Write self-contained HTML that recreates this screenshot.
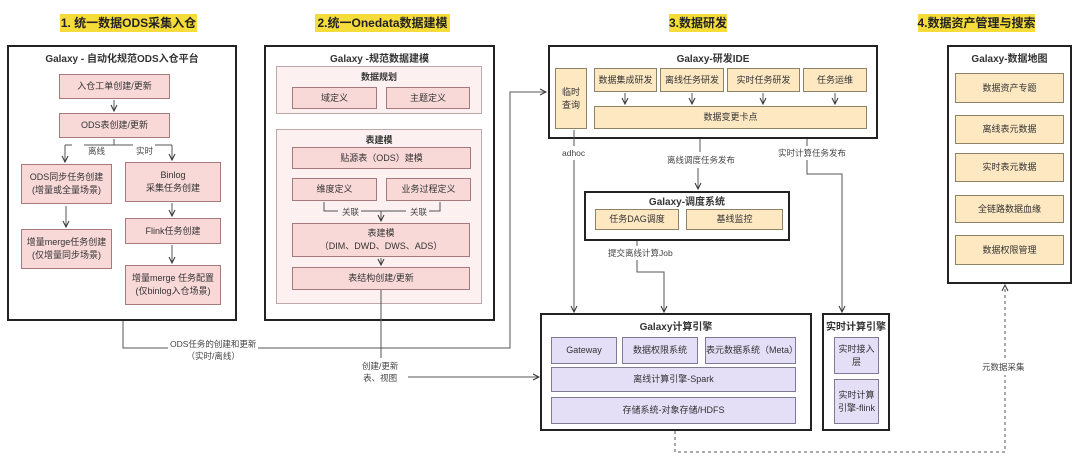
<!DOCTYPE html>
<html><head><meta charset="utf-8"><style>
body{margin:0;width:1080px;height:463px;background:#fff;position:relative;overflow:hidden;font-family:"Liberation Sans","Noto Sans CJK SC",sans-serif;color:#333}
.a{position:absolute;box-sizing:border-box;display:flex;align-items:center;justify-content:center;text-align:center;font-size:9px;line-height:13px}
.h{background:#f6dc3a;font-weight:bold;font-size:12px;color:#222;white-space:nowrap}
.bx{border:2px solid #222;background:#fff;align-items:flex-start;padding-top:6px;font-weight:bold;font-size:10px}
.pk{background:#f9d8d8;border:1.5px solid #a67a7a}
.pn{background:#fdf0f0;border:1.5px solid #c0a8a8;align-items:flex-start;padding-top:4px;font-weight:bold;font-size:9px}
.y{background:#fde8c2;border:1.5px solid #8e8266}
.pu{background:#e4def7;border:1.5px solid #807a95}
.t{position:absolute;font-size:8.5px;color:#444;text-align:center;white-space:nowrap;line-height:12px;background:#fff}
svg{position:absolute;left:0;top:0}
</style></head><body>
<div class="a h" style="left:60px;top:14px;width:137px;height:18px">1. 统一数据ODS采集入仓</div>
<div class="a h" style="left:315px;top:14px;width:135px;height:18px">2.统一Onedata数据建模</div>
<div class="a h" style="left:669px;top:14px;width:58px;height:18px">3.数据研发</div>
<div class="a h" style="left:918px;top:14px;width:117px;height:18px">4.数据资产管理与搜索</div>

<div class="a bx" style="left:7px;top:45px;width:230px;height:276px">Galaxy - 自动化规范ODS入仓平台</div>
<div class="a pk" style="left:59px;top:74px;width:111px;height:25px">入仓工单创建/更新</div>
<div class="a pk" style="left:59px;top:113px;width:111px;height:25px">ODS表创建/更新</div>
<div class="t" style="left:88px;top:145px">离线</div>
<div class="t" style="left:136px;top:145px">实时</div>
<div class="a pk" style="left:21px;top:164px;width:91px;height:40px">ODS同步任务创建<br>(增量或全量场景)</div>
<div class="a pk" style="left:125px;top:162px;width:96px;height:40px">Binlog<br>采集任务创建</div>
<div class="a pk" style="left:125px;top:218px;width:96px;height:26px">Flink任务创建</div>
<div class="a pk" style="left:21px;top:229px;width:91px;height:40px">增量merge任务创建<br>(仅增量同步场景)</div>
<div class="a pk" style="left:125px;top:265px;width:96px;height:40px">增量merge 任务配置<br>(仅binlog入仓场景)</div>

<div class="a bx" style="left:264px;top:45px;width:231px;height:276px">Galaxy -规范数据建模</div>
<div class="a pn" style="left:276px;top:66px;width:206px;height:48px">数据规划</div>
<div class="a pk" style="left:292px;top:87px;width:85px;height:22px">域定义</div>
<div class="a pk" style="left:386px;top:87px;width:84px;height:22px">主题定义</div>
<div class="a pn" style="left:276px;top:129px;width:206px;height:175px">表建模</div>
<div class="a pk" style="left:292px;top:147px;width:179px;height:22px">贴源表（ODS）建模</div>
<div class="a pk" style="left:292px;top:178px;width:85px;height:23px">维度定义</div>
<div class="a pk" style="left:386px;top:178px;width:85px;height:23px">业务过程定义</div>
<div class="t" style="left:342px;top:206px;background:none">关联</div>
<div class="t" style="left:410px;top:206px;background:none">关联</div>
<div class="a pk" style="left:292px;top:223px;width:178px;height:34px">表建模<br>（DIM、DWD、DWS、ADS）</div>
<div class="a pk" style="left:292px;top:267px;width:178px;height:23px">表结构创建/更新</div>

<div class="t" style="left:170px;top:338px">ODS任务的创建和更新<br>（实时/离线）</div>
<div class="t" style="left:362px;top:360px">创建/更新<br>表、视图</div>

<div class="a bx" style="left:548px;top:45px;width:330px;height:94px">Galaxy-研发IDE</div>
<div class="a y" style="left:555px;top:68px;width:32px;height:61px">临时<br>查询</div>
<div class="a y" style="left:594px;top:68px;width:63px;height:24px">数据集成研发</div>
<div class="a y" style="left:660px;top:68px;width:64px;height:24px">离线任务研发</div>
<div class="a y" style="left:727px;top:68px;width:73px;height:24px">实时任务研发</div>
<div class="a y" style="left:803px;top:68px;width:64px;height:24px">任务运维</div>
<div class="a y" style="left:594px;top:106px;width:273px;height:23px">数据变更卡点</div>
<div class="t" style="left:562px;top:147px">adhoc</div>
<div class="t" style="left:667px;top:154px">离线调度任务发布</div>
<div class="t" style="left:778px;top:147px">实时计算任务发布</div>

<div class="a bx" style="left:584px;top:191px;width:206px;height:50px;padding-top:3px">Galaxy-调度系统</div>
<div class="a y" style="left:595px;top:209px;width:84px;height:21px">任务DAG调度</div>
<div class="a y" style="left:686px;top:209px;width:97px;height:21px">基线监控</div>
<div class="t" style="left:608px;top:247px">提交离线计算Job</div>

<div class="a bx" style="left:540px;top:313px;width:272px;height:118px">Galaxy计算引擎</div>
<div class="a pu" style="left:551px;top:337px;width:66px;height:27px">Gateway</div>
<div class="a pu" style="left:622px;top:337px;width:76px;height:27px">数据权限系统</div>
<div class="a pu" style="left:705px;top:337px;width:91px;height:27px">表元数据系统（Meta）</div>
<div class="a pu" style="left:551px;top:367px;width:245px;height:25px">离线计算引擎-Spark</div>
<div class="a pu" style="left:551px;top:397px;width:245px;height:27px">存储系统-对象存储/HDFS</div>

<div class="a bx" style="left:822px;top:313px;width:68px;height:118px">实时计算引擎</div>
<div class="a pu" style="left:834px;top:337px;width:45px;height:37px">实时接入层</div>
<div class="a pu" style="left:834px;top:379px;width:45px;height:45px">实时计算引擎-flink</div>

<div class="a bx" style="left:947px;top:45px;width:125px;height:239px">Galaxy-数据地图</div>
<div class="a y" style="left:955px;top:73px;width:109px;height:30px">数据资产专题</div>
<div class="a y" style="left:955px;top:115px;width:109px;height:29px">离线表元数据</div>
<div class="a y" style="left:955px;top:153px;width:109px;height:29px">实时表元数据</div>
<div class="a y" style="left:955px;top:195px;width:109px;height:28px">全链路数据血缘</div>
<div class="a y" style="left:955px;top:235px;width:109px;height:30px">数据权限管理</div>
<div class="t" style="left:982px;top:361px">元数据采集</div>

<svg width="1080" height="463">
<defs><marker id="ar" markerWidth="8" markerHeight="8" refX="7" refY="4" orient="auto"><path d="M1,1 L7,4 L1,7" fill="none" stroke="#333" stroke-width="1"/></marker></defs>
<g stroke="#555" stroke-width="1" fill="none">
<path d="M123,321 V348 H168"/>
<path d="M258,348 H510 V92 H546" marker-end="url(#ar)"/>
<path d="M381,290 V358"/>
<path d="M408,377 H539" marker-end="url(#ar)"/>
<path d="M574,130 V146"/>
<path d="M574,160 V312" marker-end="url(#ar)"/>
<path d="M700,139 V152"/>
<path d="M698,168 V189" marker-end="url(#ar)"/>
<path d="M807,139 V146"/>
<path d="M807,160 V174 H842 V312" marker-end="url(#ar)"/>
<path d="M637,241 V246"/>
<path d="M637,260 V272 H664 V312" marker-end="url(#ar)"/>
<path d="M675,431 V452 H1005 V375" stroke-dasharray="3,3"/>
<path d="M1005,358 V285" stroke-dasharray="3,3" marker-end="url(#ar)"/>
<path d="M114,100 V111" marker-end="url(#ar)"/>
<path d="M114,139 V145 H84 M65,145 H72"/>
<path d="M65,145 V162" marker-end="url(#ar)"/>
<path d="M114,145 H133 M155,145 H172"/>
<path d="M172,145 V160" marker-end="url(#ar)"/>
<path d="M66,206 V227" marker-end="url(#ar)"/>
<path d="M172,203 V216" marker-end="url(#ar)"/>
<path d="M172,245 V263" marker-end="url(#ar)"/>
<path d="M324,202 V211 H338 M361,211 H406 M429,211 H440 V202"/>
<path d="M381,211 V221" marker-end="url(#ar)"/>
<path d="M381,258 V265" marker-end="url(#ar)"/>
<path d="M625,93 V104" marker-end="url(#ar)"/>
<path d="M692,93 V104" marker-end="url(#ar)"/>
<path d="M763,93 V104" marker-end="url(#ar)"/>
<path d="M835,93 V104" marker-end="url(#ar)"/>
</g>
</svg>
</body></html>
